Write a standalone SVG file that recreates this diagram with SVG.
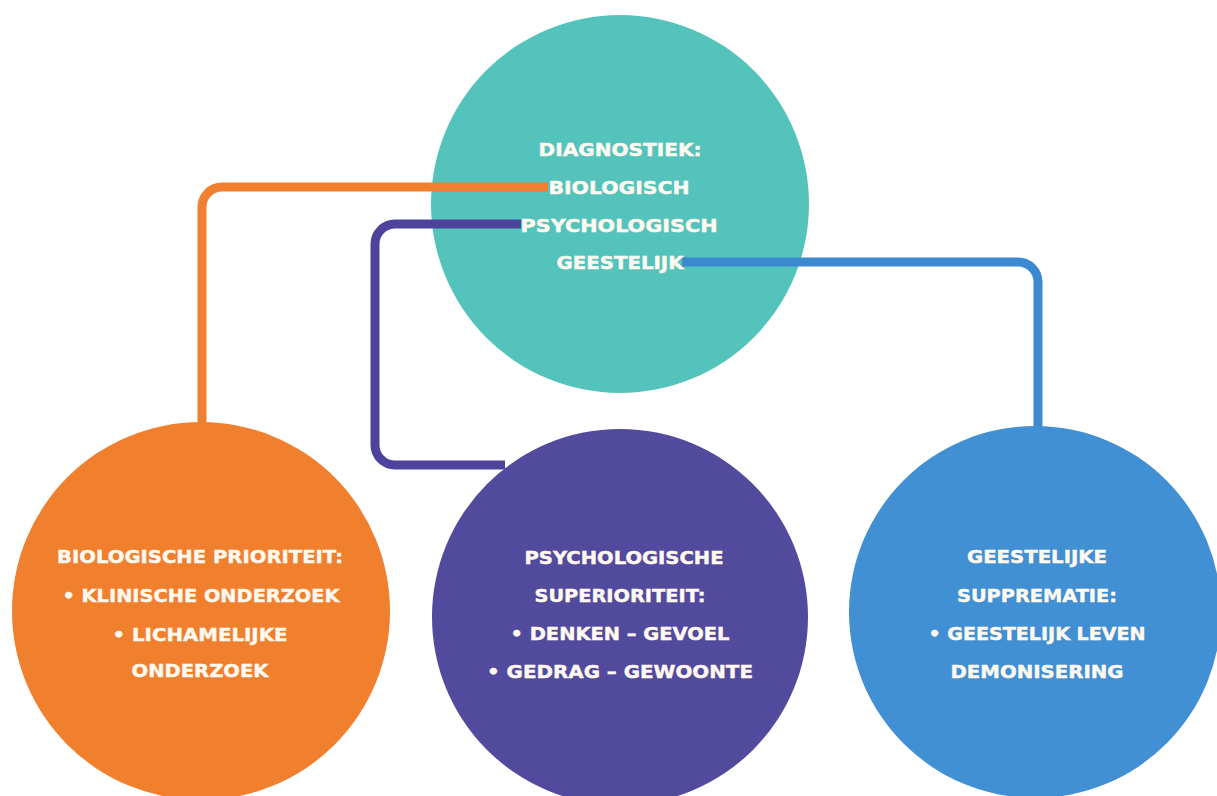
<svg xmlns="http://www.w3.org/2000/svg" width="1217" height="796" viewBox="0 0 1217 796">
<style>
.lbl{font-family:"DejaVu Sans","Liberation Sans",sans-serif;font-weight:700;font-size:18px;fill:#FFF9F0;stroke:#FFF9F0;stroke-width:0.45;text-anchor:middle}
.conn{fill:none;stroke-width:9;stroke-linecap:butt;stroke-linejoin:round}
</style>
<rect width="1217" height="796" fill="#FFFFFF"/>
<g id="node-diagnostiek">
<circle cx="620" cy="204" r="189" fill="#53C3BC"/>
</g>
<g id="connectors">
<path class="conn" stroke="#F07F2F" d="M548,187 H222 A20,20 0 0 0 202,207 V426"/>
<path class="conn" stroke="#4D439C" d="M521,224 H395 A20,20 0 0 0 375,244 V445 A20,20 0 0 0 395,465 H505"/>
<path class="conn" stroke="#3C89D2" d="M682,262 H1018 A20,20 0 0 1 1038,282 V430"/>
</g>
<g id="node-diagnostiek-text">
<text class="lbl" x="620" y="156" textLength="163" lengthAdjust="spacingAndGlyphs">DIAGNOSTIEK:</text>
<text class="lbl" x="619" y="194" textLength="141" lengthAdjust="spacingAndGlyphs">BIOLOGISCH</text>
<text class="lbl" x="619" y="232" textLength="197" lengthAdjust="spacingAndGlyphs">PSYCHOLOGISCH</text>
<text class="lbl" x="620" y="269" textLength="127" lengthAdjust="spacingAndGlyphs">GEESTELIJK</text>
</g>
<g id="node-biologisch">
<circle cx="201" cy="611" r="189" fill="#F07F2E"/>
<text class="lbl" x="200" y="563" textLength="286" lengthAdjust="spacingAndGlyphs">BIOLOGISCHE PRIORITEIT:</text>
<text class="lbl" x="201" y="602" textLength="277" lengthAdjust="spacingAndGlyphs">• KLINISCHE ONDERZOEK</text>
<text class="lbl" x="200" y="641" textLength="175" lengthAdjust="spacingAndGlyphs">• LICHAMELIJKE</text>
<text class="lbl" x="200" y="677" textLength="137" lengthAdjust="spacingAndGlyphs">ONDERZOEK</text>
</g>
<g id="node-psychologisch">
<circle cx="620" cy="617" r="188" fill="#524A9D"/>
<text class="lbl" x="624" y="564" textLength="199" lengthAdjust="spacingAndGlyphs">PSYCHOLOGISCHE</text>
<text class="lbl" x="620" y="602" textLength="171" lengthAdjust="spacingAndGlyphs">SUPERIORITEIT:</text>
<text class="lbl" x="620" y="640" textLength="219" lengthAdjust="spacingAndGlyphs">• DENKEN – GEVOEL</text>
<text class="lbl" x="620" y="678" textLength="266" lengthAdjust="spacingAndGlyphs">• GEDRAG – GEWOONTE</text>
</g>
<g id="node-geestelijk">
<circle cx="1035" cy="612" r="186" fill="#4190D3"/>
<text class="lbl" x="1037" y="563" textLength="140" lengthAdjust="spacingAndGlyphs">GEESTELIJKE</text>
<text class="lbl" x="1037" y="602" textLength="160" lengthAdjust="spacingAndGlyphs">SUPPREMATIE:</text>
<text class="lbl" x="1037" y="640" textLength="217" lengthAdjust="spacingAndGlyphs">• GEESTELIJK LEVEN</text>
<text class="lbl" x="1037" y="678" textLength="173" lengthAdjust="spacingAndGlyphs">DEMONISERING</text>
</g>
</svg>
